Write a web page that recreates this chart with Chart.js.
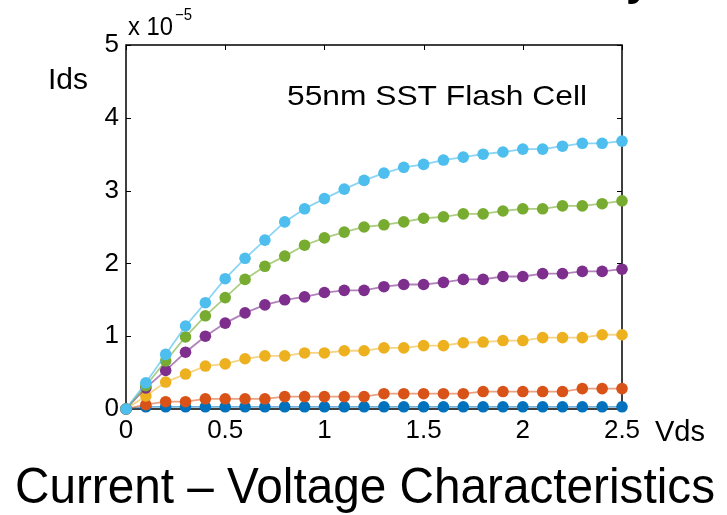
<!DOCTYPE html>
<html>
<head>
<meta charset="utf-8">
<script src="https://cdn.jsdelivr.net/npm/chart.js@4/dist/chart.umd.min.js"></script>
<style>
  html, body { margin: 0; padding: 0; background: #ffffff; }
  #wrap { width: 727px; height: 515px; position: relative; }
</style>
</head>
<body>
<div id="wrap"><canvas id="c" width="727" height="515"></canvas></div>
<script>
// ---- data (Ids in units of 1e-5 A) ----
const vds = [0, 0.1, 0.2, 0.3, 0.4, 0.5, 0.6, 0.7, 0.8, 0.9, 1.0, 1.1, 1.2, 1.3, 1.4, 1.5, 1.6, 1.7, 1.8, 1.9, 2.0, 2.1, 2.2, 2.3, 2.4, 2.5];
const idsBlue      = [0, 0.03, 0.03, 0.03, 0.03, 0.03, 0.03, 0.03, 0.03, 0.03, 0.03, 0.03, 0.03, 0.03, 0.03, 0.03, 0.03, 0.03, 0.03, 0.03, 0.03, 0.03, 0.03, 0.03, 0.03, 0.03];
const idsOrange    = [0, 0.06, 0.10, 0.10, 0.14, 0.14, 0.14, 0.14, 0.17, 0.17, 0.17, 0.17, 0.17, 0.21, 0.21, 0.21, 0.21, 0.21, 0.24, 0.24, 0.24, 0.24, 0.24, 0.28, 0.28, 0.28];
const idsYellow    = [0, 0.18, 0.37, 0.48, 0.59, 0.62, 0.69, 0.73, 0.73, 0.77, 0.77, 0.80, 0.80, 0.84, 0.84, 0.87, 0.87, 0.91, 0.92, 0.94, 0.94, 0.98, 0.98, 0.98, 1.02, 1.02];
const idsPurple    = [0, 0.29, 0.53, 0.78, 1.00, 1.18, 1.32, 1.43, 1.50, 1.54, 1.60, 1.63, 1.63, 1.68, 1.71, 1.71, 1.74, 1.78, 1.78, 1.82, 1.82, 1.86, 1.86, 1.89, 1.89, 1.92];
const idsGreen     = [0, 0.32, 0.66, 0.99, 1.28, 1.53, 1.78, 1.96, 2.10, 2.25, 2.35, 2.43, 2.50, 2.53, 2.57, 2.62, 2.64, 2.68, 2.68, 2.72, 2.75, 2.75, 2.79, 2.79, 2.82, 2.86];
const idsLightBlue = [0, 0.36, 0.75, 1.14, 1.46, 1.79, 2.07, 2.32, 2.57, 2.75, 2.89, 3.02, 3.14, 3.24, 3.32, 3.36, 3.42, 3.46, 3.50, 3.53, 3.57, 3.57, 3.61, 3.65, 3.65, 3.68];

const xTicks = [0, 0.5, 1, 1.5, 2, 2.5];
const yTicks = [0, 1, 2, 3, 4, 5];

const titleText = "Current \u2013 Voltage Characteristics";
const annotationText = "55nm SST Flash Cell";
const yLabelText = "Ids";
const xLabelText = "Vds";
const exponentBase = "x 10";
const exponentSup = "\u22125";

// ---- styling ----
const FONT = '"Liberation Sans", Arial, Helvetica, sans-serif';
const seriesDefs = [
  { data: idsBlue,      color: '#0072BD', line: 'rgba(0,114,189,0.55)',  order: 6 },
  { data: idsOrange,    color: '#D95319', line: 'rgba(217,83,25,0.55)',  order: 5 },
  { data: idsYellow,    color: '#EDB120', line: 'rgba(237,177,32,0.55)', order: 4 },
  { data: idsPurple,    color: '#7E2F8E', line: 'rgba(126,47,142,0.6)', order: 3 },
  { data: idsGreen,     color: '#77AC30', line: 'rgba(119,172,48,0.6)', order: 2 },
  { data: idsLightBlue, color: '#4DBEEE', line: 'rgba(77,190,238,0.65)', order: 1 }
];

const datasets = seriesDefs.map(s => ({
  data: vds.map((x, i) => ({ x: x, y: s.data[i] })),
  borderColor: s.line,
  backgroundColor: s.color,
  pointBackgroundColor: s.color,
  pointBorderColor: s.color,
  pointRadius: 5.8,
  pointBorderWidth: 0,
  borderWidth: 1.8,
  tension: 0,
  clip: false,
  order: s.order
}));

function fitText(ctx, text, x, y, size, width, align) {
  ctx.save();
  ctx.font = size + 'px ' + FONT;
  ctx.textBaseline = 'middle';
  ctx.textAlign = 'left';
  const w = ctx.measureText(text).width;
  const sx = width ? width / w : 1;
  let left = x;
  if (align === 'center') left = x - (w * sx) / 2;
  ctx.translate(left, y);
  ctx.scale(sx, 1);
  ctx.fillStyle = '#000';
  ctx.fillText(text, 0, 0);
  ctx.restore();
}

const framePlugin = {
  id: 'frame',
  beforeDatasetsDraw(chart) {
    const ctx = chart.ctx;
    const a = chart.chartArea;
    const xs = chart.scales.x, ys = chart.scales.y;
    ctx.save();
    ctx.strokeStyle = '#000';
    ctx.lineWidth = 1.5;
    ctx.strokeRect(a.left, a.top, a.right - a.left, a.bottom - a.top);
    ctx.lineWidth = 1;
    const tl = 5;
    xTicks.forEach(v => {
      const px = Math.round(xs.getPixelForValue(v)) + 0.5;
      ctx.beginPath();
      ctx.moveTo(px, a.bottom); ctx.lineTo(px, a.bottom - tl);
      ctx.moveTo(px, a.top); ctx.lineTo(px, a.top + tl);
      ctx.stroke();
    });
    yTicks.forEach(v => {
      const py = Math.round(ys.getPixelForValue(v)) + 0.5;
      ctx.beginPath();
      ctx.moveTo(a.left, py); ctx.lineTo(a.left + tl, py);
      ctx.moveTo(a.right, py); ctx.lineTo(a.right - tl, py);
      ctx.stroke();
    });
    ctx.restore();
  },
  afterDraw(chart) {
    const ctx = chart.ctx;
    fitText(ctx, exponentBase, 128, 28, 25, 45);
    fitText(ctx, exponentSup, 175, 16, 16, 17);
    fitText(ctx, yLabelText, 48, 81, 29, 40);
    fitText(ctx, annotationText, 287, 97, 28, 300);
    fitText(ctx, xLabelText, 655, 433, 29, 50);
    fitText(ctx, titleText, 365, 489, 50, 700, 'center');
    // cropped slide-title fragment at top right
    ctx.save();
    ctx.font = 'bold 44px ' + FONT;
    ctx.textBaseline = 'alphabetic';
    ctx.fillStyle = '#000';
    ctx.fillText('y', 626, -5);
    ctx.restore();
  }
};

new Chart(document.getElementById('c'), {
  type: 'line',
  data: { datasets: datasets },
  options: {
    responsive: false,
    animation: false,
    layout: { padding: { left: 0, right: 105, top: 45, bottom: 0 } },
    plugins: { legend: { display: false }, tooltip: { enabled: false }, title: { display: false } },
    scales: {
      x: {
        type: 'linear',
        min: 0, max: 2.5,
        afterFit(scale) { scale.height = 106; },
        afterBuildTicks(scale) { scale.ticks = xTicks.map(v => ({ value: v })); },
        grid: { display: false, drawTicks: false },
        border: { display: false },
        ticks: {
          font: { family: FONT, size: 26 },
          color: '#000',
          padding: 6,
          maxRotation: 0,
          callback: v => String(v)
        }
      },
      y: {
        type: 'linear',
        min: 0, max: 5,
        afterFit(scale) { scale.width = 126; },
        afterBuildTicks(scale) { scale.ticks = yTicks.map(v => ({ value: v })); },
        grid: { display: false, drawTicks: false },
        border: { display: false },
        ticks: {
          font: { family: FONT, size: 26 },
          color: '#000',
          padding: 7,
          callback: v => String(v)
        }
      }
    }
  },
  plugins: [framePlugin]
});
</script>
</body>
</html>
